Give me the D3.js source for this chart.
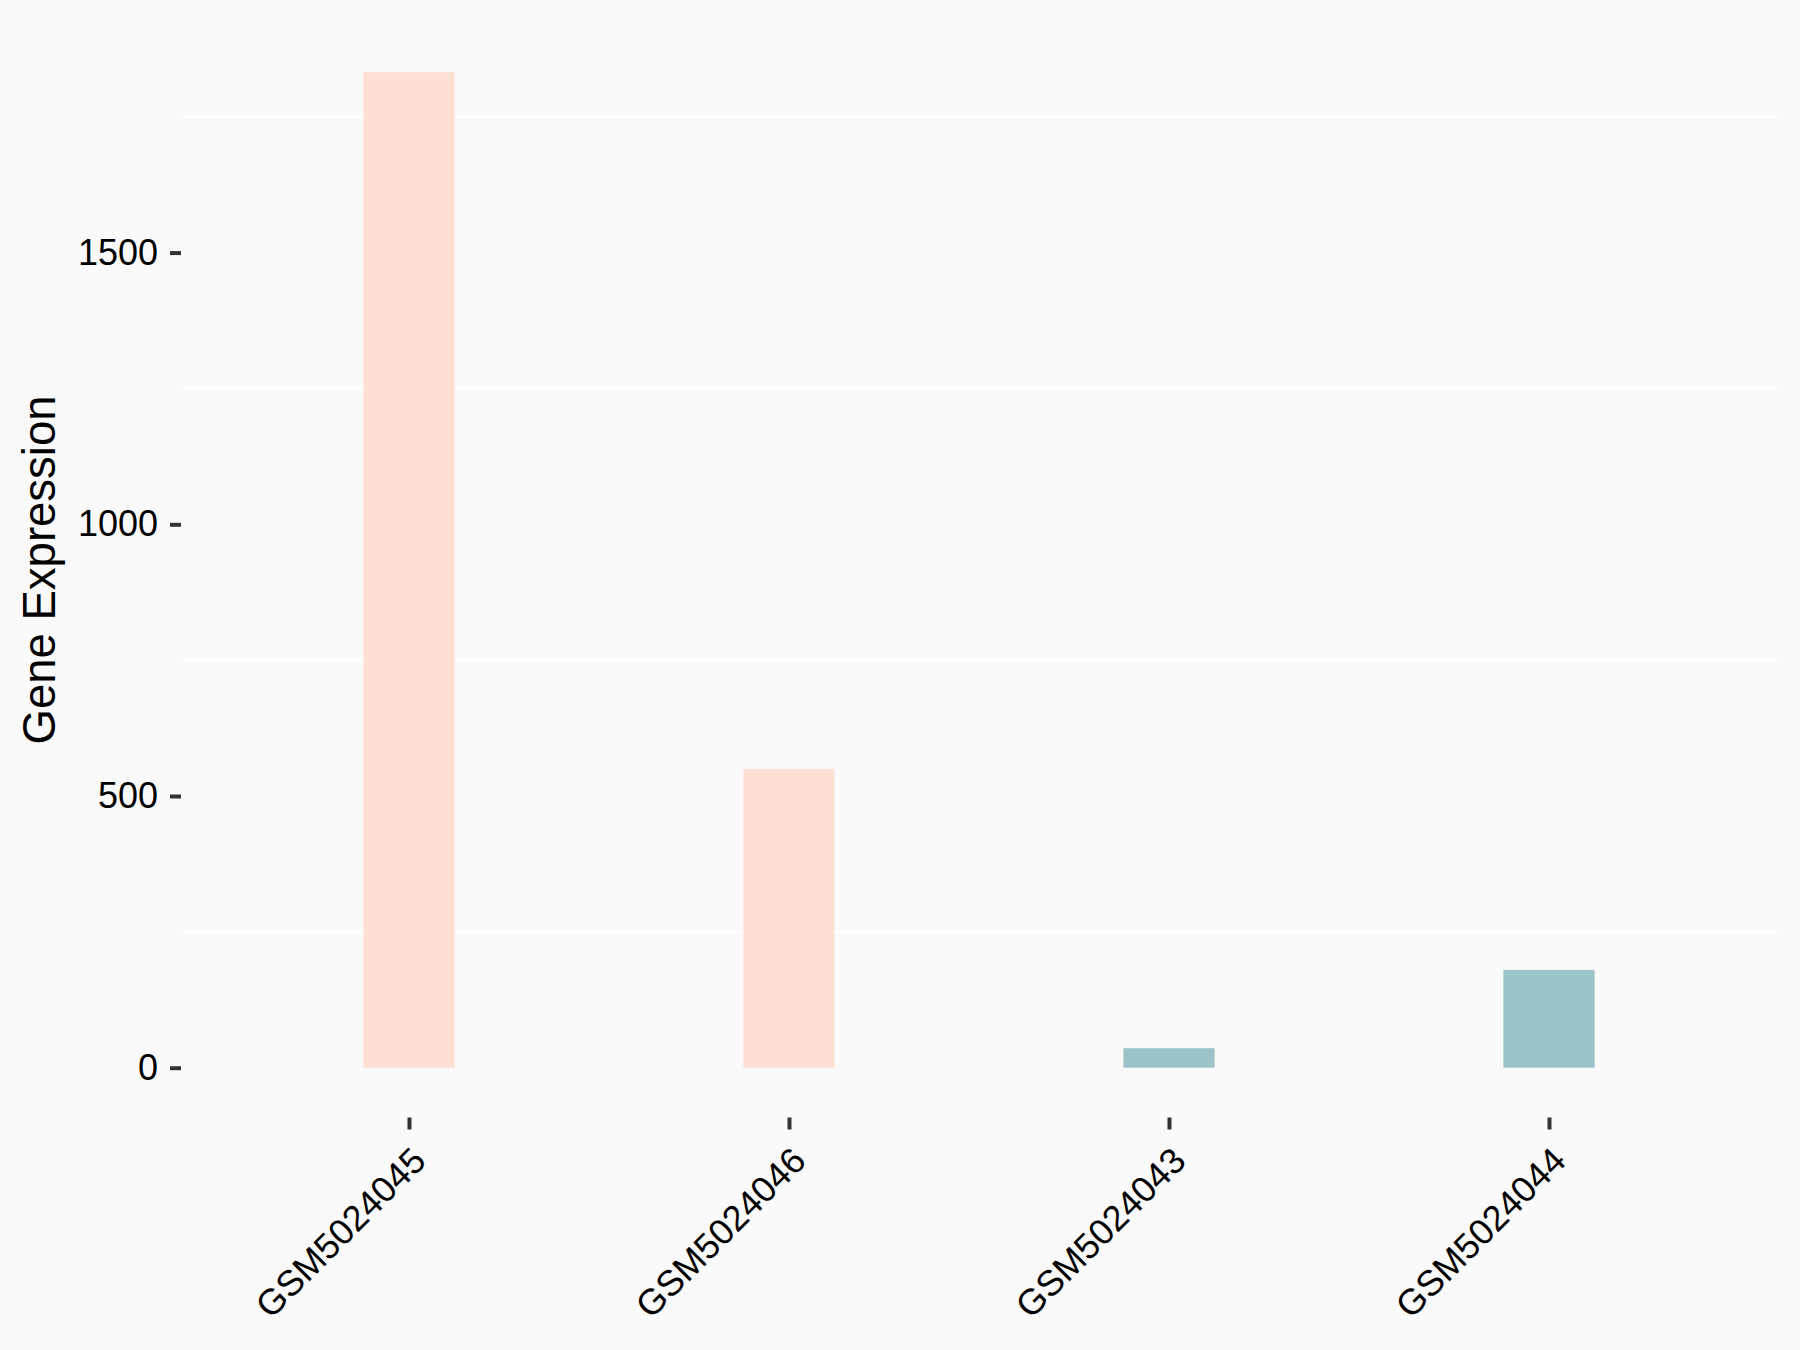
<!DOCTYPE html>
<html>
<head>
<meta charset="utf-8">
<script src="https://cdn.jsdelivr.net/npm/d3@7"></script>
<style>
  html, body { margin: 0; padding: 0; background: #FAFAFA; }
  svg { display: block; }
</style>
</head>
<body>
<svg id="chart" width="1800" height="1350"></svg>
<script>
const categories = ["GSM5024045", "GSM5024046", "GSM5024043", "GSM5024044"];
const values = [1832, 550, 36, 180];
const groups = ["high", "high", "low", "low"];
const yTicks = [0, 500, 1000, 1500];
const yMinorTicks = [250, 750, 1250, 1750];
const yTitle = "Gene Expression";

const colors = { high: "#FDE0D5", low: "#9CC4C8" };

const W = 1800, H = 1350;
const panel = { left: 181, right: 1777, top: 22.4, bottom: 1117.5 };

const svg = d3.select("#chart");
svg.append("rect").attr("width", W).attr("height", H).attr("fill", "#FAFAFA");

const maxV = d3.max(values);
const pad = maxV * 0.05;
const y = d3.scaleLinear().domain([-pad, maxV + pad]).range([panel.bottom, panel.top]);
const x = d3.scalePoint().domain(categories).range([panel.left, panel.right]).padding(0.6);
const barW = x.step() * 0.24;

// minor gridlines
svg.append("g").selectAll("line").data(yMinorTicks).join("line")
  .attr("x1", panel.left).attr("x2", panel.right)
  .attr("y1", d => y(d)).attr("y2", d => y(d))
  .attr("stroke", "#FFFFFF").attr("stroke-width", 2.3);

// bars
svg.append("g").selectAll("rect").data(categories).join("rect")
  .attr("x", d => x(d) - barW / 2)
  .attr("width", barW)
  .attr("y", (d, i) => y(values[i]))
  .attr("height", (d, i) => y(0) - y(values[i]))
  .attr("fill", (d, i) => colors[groups[i]]);

// y axis
const yAxis = d3.axisLeft(y).tickValues(yTicks).tickSize(11).tickPadding(12).tickFormat(d3.format("d"));
const gy = svg.append("g").attr("transform", `translate(${panel.left},0)`).call(yAxis);
gy.select(".domain").remove();
gy.selectAll(".tick line").attr("stroke", "#333333").attr("stroke-width", 4);
gy.selectAll(".tick text")
  .attr("font-family", "'Liberation Sans', Arial, sans-serif")
  .attr("font-size", 36)
  .attr("fill", "#000000");

// x axis
const xAxis = d3.axisBottom(x).tickSize(12).tickPadding(0);
const gx = svg.append("g").attr("transform", `translate(0,${panel.bottom})`).call(xAxis);
gx.select(".domain").remove();
gx.selectAll(".tick line").attr("stroke", "#333333").attr("stroke-width", 4);
gx.selectAll(".tick text")
  .attr("font-family", "'Liberation Sans', Arial, sans-serif")
  .attr("font-size", 36)
  .attr("fill", "#000000")
  .attr("text-anchor", "end")
  .attr("x", 0).attr("y", 0).attr("dy", "0.72em")
  .attr("transform", "translate(0,27) rotate(-45)");

// y title
svg.append("text")
  .attr("transform", `translate(55,${(panel.top + panel.bottom) / 2}) rotate(-90)`)
  .attr("text-anchor", "middle")
  .attr("font-family", "'Liberation Sans', Arial, sans-serif")
  .attr("font-size", 45.5)
  .attr("fill", "#000000")
  .text(yTitle);
</script>
</body>
</html>
